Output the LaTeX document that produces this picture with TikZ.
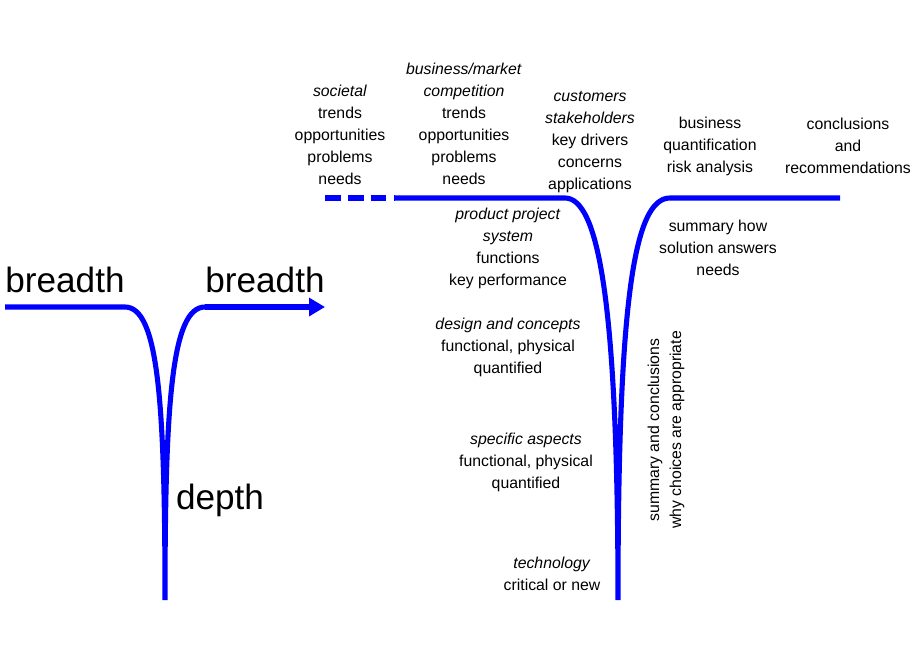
\documentclass[tikz,border=0pt]{standalone}
\usepackage{fontspec}
\setmainfont{Liberation Sans}
\usetikzlibrary{arrows.meta}
\begin{document}
\begin{tikzpicture}[x=0.02cm,y=-0.02cm]
\tikzset{curve/.style={blue,line width=2.9pt},
  lbl/.style={align=center,inner sep=0pt,font=\fontsize{9}{12.5}\selectfont},
  big/.style={inner sep=0pt,font=\fontsize{20}{24}\selectfont}}
\useasboundingbox (0,0) rectangle (920,660);
% left V
\coordinate (la) at (5,307);
\coordinate (lb) at (125,307);
\coordinate (lc) at (165,600);
\coordinate (ld) at (205,307);
\coordinate (le) at (325,307);
\draw [curve] (la) -- (lb) .. controls (158,307) and (165,400) .. (lc)
  .. controls (165,400) and (172,307) .. (ld);
\draw [curve,-{Triangle[length=9pt,width=10pt]}] (ld) -- (le);
\node [big] (br1) at (65,280) {breadth};
\node [big] (br2) at (265,280) {breadth};
\node [big] (dp) at (220,500) {depth};
% right V
\coordinate (ra) at (325,198);
\coordinate (rb) at (395,198);
\coordinate (rc) at (565,198);
\coordinate (rd) at (618,600);
\coordinate (re) at (670,198);
\coordinate (rf) at (840,198);
\draw [curve,dash pattern=on 9pt off 4pt] (ra) -- (rb);
\draw [curve] (rb) -- (rc) .. controls (598,198) and (618,300) .. (rd)
  .. controls (618,300) and (634,198) .. (re) -- (rf);
% top labels
\node [lbl] (soc) at (340,135) {\textit{societal}\\trends\\opportunities\\problems\\needs};
\node [lbl] (bus) at (464,124) {\textit{business/market}\\\textit{competition}\\trends\\opportunities\\problems\\needs};
\node [lbl] (cus) at (590,142) {\textit{customers}\\\textit{stakeholders}\\key drivers\\concerns\\applications};
\node [lbl] (quant) at (710,146) {business\\quantification\\risk analysis};
\node [lbl] (concl) at (848,146) {conclusions\\and\\recommendations};
% descending labels
\node [lbl] (prod) at (508,248) {\textit{product project}\\\textit{system}\\functions\\key performance};
\node [lbl] (des) at (508,347) {\textit{design and concepts}\\functional, physical\\quantified};
\node [lbl] (spec) at (526,462) {\textit{specific aspects}\\functional, physical\\quantified};
\node [lbl] (tech) at (552,574) {\textit{technology}\\critical or new};
% ascending labels
\node [lbl] (summ) at (718,248) {summary how\\solution answers\\needs};
\node [lbl,rotate=90] (why) at (666,430) {summary and conclusions\\why choices are appropriate};
\end{tikzpicture}
\end{document}
